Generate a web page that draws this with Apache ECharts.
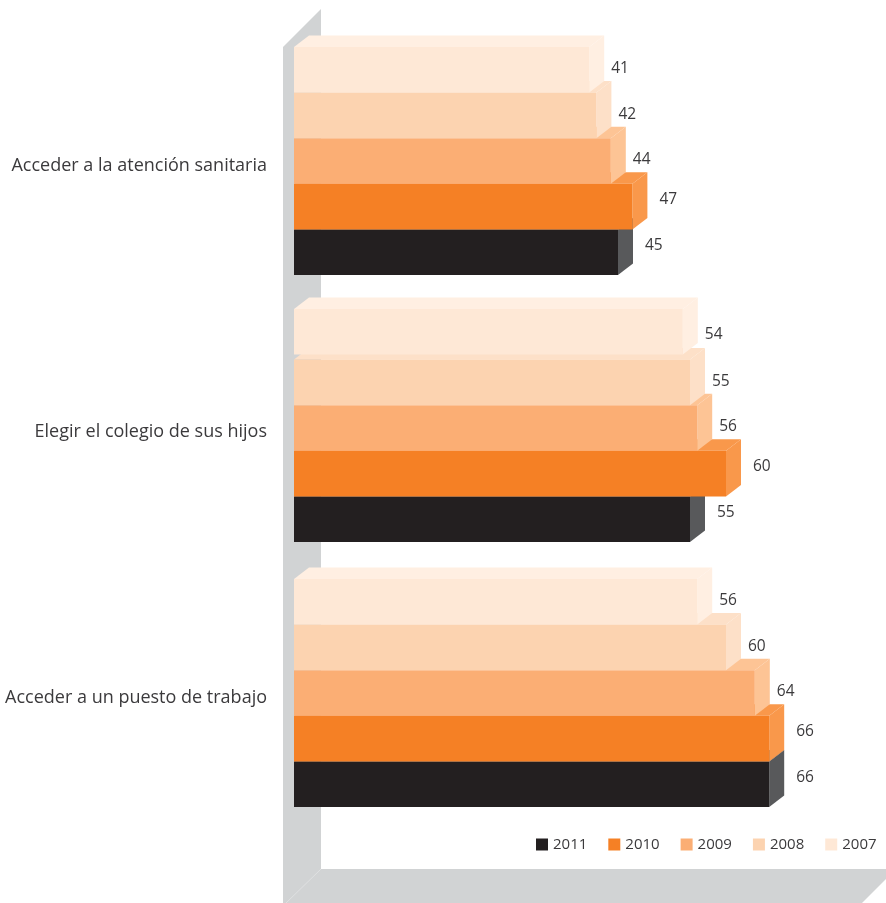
<!DOCTYPE html>
<html><head><meta charset="utf-8">
<style>html,body{margin:0;padding:0;background:#fff}#c{width:886px;height:903px}</style>
<script src="https://cdn.jsdelivr.net/npm/echarts@6/dist/echarts.min.js"></script>
</head><body><div id="c"></div>
<script>
const categories = ["Acceder a la atención sanitaria","Elegir el colegio de sus hijos","Acceder a un puesto de trabajo"];
const years = ["2011","2010","2009","2008","2007"];
const v2011 = [45,55,66];
const v2010 = [47,60,66];
const v2009 = [44,56,64];
const v2008 = [42,55,60];
const v2007 = [41,54,56];
const seriesValues = [v2011,v2010,v2009,v2008,v2007];
const faceColors = ["#231f20","#f58025","#fbae74","#fcd3b0","#fee8d6"];
const sideColors = ["#58595b","#f9984b","#fdc495","#fde0c8","#ffefe2"];
const FONT = "'Open Sans'";
const TEXT = "#3b3a3c";
const WALL = "#d1d3d4";
const DX = 15, DY = -11.5, ROW = 45.6;

function makeRender(si){
  return function(params, api){
    const val = api.value(0), cat = api.value(1);
    const end = api.coord([val,cat]);
    const start = api.coord([0,cat]);
    const row = 4 - si;
    let top = end[1] + (row - 2) * ROW - ROW / 2;
    if (cat === 1) top += 1;
    const detached = cat === 1 && si === 4;
    if (detached) top -= 5;
    const x0 = start[0], x1 = end[0], b = top + ROW;
    const light = si >= 2;
    const labelDy = detached ? 3 : (light ? -1 : -7);
    return {type:'group', children:[
      {type:'polygon', shape:{points:[[x0,top],[x0+DX,top+DY],[x1+DX,top+DY],[x1,top]]}, style:{fill:sideColors[si]}},
      {type:'polygon', shape:{points:[[x1,top],[x1+DX,top+DY],[x1+DX,b+DY],[x1,b]]}, style:{fill:sideColors[si]}},
      {type:'rect', shape:{x:x0,y:top,width:x1-x0,height:ROW}, style:{fill:faceColors[si]}},
      {type:'text', x:x1+(light?22:27), y:top+ROW/2+labelDy,
        style:{text:String(val), fill:TEXT, font:"15.5px "+FONT, textAlign:'left', textVerticalAlign:'middle'}}
    ]};
  };
}

const chart = echarts.init(document.getElementById('c'), null, {renderer:'canvas'});
chart.setOption({
  animation:false,
  backgroundColor:'#fff',
  textStyle:{fontFamily:FONT},
  grid:{left:294, width:576, top:28, height:798},
  xAxis:{type:'value', min:0, max:80, show:false},
  yAxis:{type:'category', inverse:true, data:categories,
    axisLine:{show:false}, axisTick:{show:false}, splitLine:{show:false},
    axisLabel:{color:TEXT, fontFamily:FONT, fontSize:18, margin:27, verticalAlign:'top', lineHeight:9}},
  legend:{left:536, top:837, width:350, padding:0, itemWidth:12, itemHeight:12, itemGap:21, icon:'rect',
    data:years, textStyle:{color:TEXT, fontFamily:FONT, fontSize:15}},
  graphic:[
    {type:'polygon', z:0, shape:{points:[[283,47],[321,9],[321,903],[283,903]]}, style:{fill:WALL}},
    {type:'polygon', z:0, shape:{points:[[321,869],[896,869],[862,903],[283,903]]}, style:{fill:WALL}},
    {type:'line', z:0, shape:{x1:321,y1:869,x2:286,y2:903}, style:{stroke:'#dfe0e1',lineWidth:1}}
  ],
  series: years.map((y,si)=>({
    name:y, type:'custom', coordinateSystem:'cartesian2d',
    itemStyle:{color:faceColors[si]}, clip:false,
    encode:{x:0,y:1},
    renderItem:makeRender(si),
    data:seriesValues[si].map((v,c)=>[v,c])
  }))
});
</script></body></html>
